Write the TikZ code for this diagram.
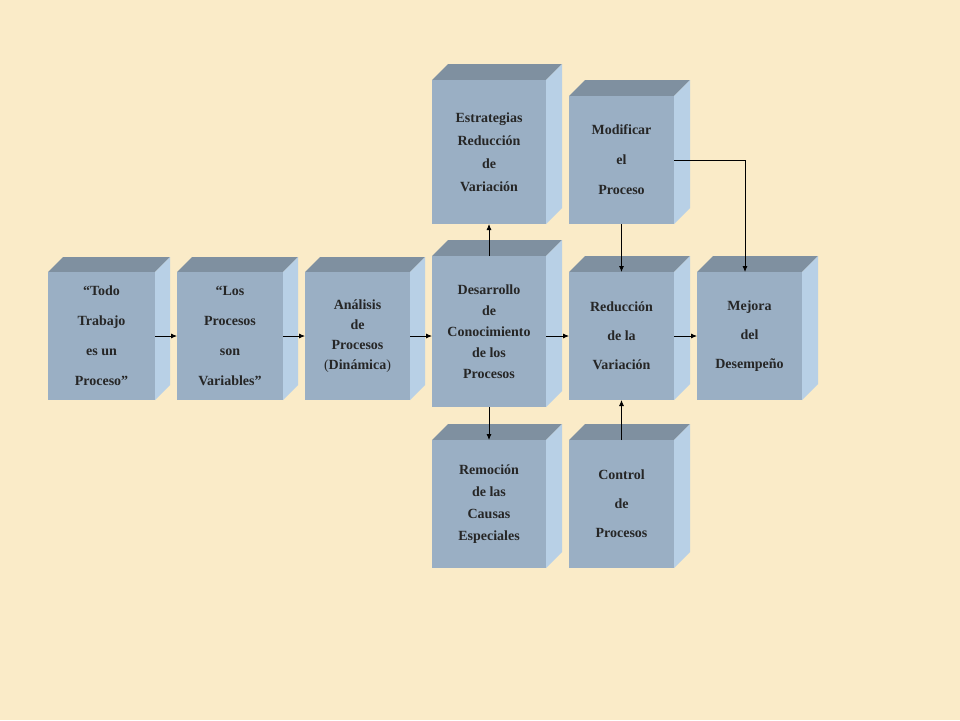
\documentclass[tikz,border=0pt]{standalone}
\usepackage{fontspec}
\setmainfont{Liberation Serif}
\usetikzlibrary{arrows.meta}
\definecolor{bg}{HTML}{FAEBC8}
\definecolor{front}{HTML}{9AAFC4}
\definecolor{topf}{HTML}{7F90A0}
\definecolor{side}{HTML}{B8D0E6}
\tikzset{x=1pt,y=-1pt,
 lbl/.style={align=center,font=\bfseries\fontsize{14}{#1}\selectfont,text=black!85},
 arr/.style={-{Latex[length=6pt,width=5pt]},line width=0.8pt}}
\newcommand\mycube[6]{% name x1 y1 x2 y2 d
 \fill[topf] (#2,#3) -- (#2+#6,#3-#6) -- (#4+#6,#3-#6) -- (#4,#3) -- cycle;
 \fill[side] (#4,#3) -- (#4+#6,#3-#6) -- (#4+#6,#5-#6) -- (#4,#5) -- cycle;
 \fill[front] (#2,#3) rectangle (#4,#5);
 \coordinate (#1) at ({(#2+#4)/2},{(#3+#5)/2});
 \coordinate (#1-n) at ({(#2+#4)/2},#3);
 \coordinate (#1-s) at ({(#2+#4)/2},#5);
 \coordinate (#1-e) at (#4,{(#3+#5)/2});
 \coordinate (#1-w) at (#2,{(#3+#5)/2});}
\begin{document}
\begin{tikzpicture}
\fill[bg] (0,0) rectangle (960,720);
\useasboundingbox (0,0) rectangle (960,720);
\mycube{a}{48}{272}{155}{400}{15}
\mycube{b}{177}{272}{283}{400}{15}
\mycube{c}{305}{272}{410}{400}{15}
\mycube{d}{432}{256}{546}{407}{16}
\mycube{e}{432}{80}{546}{224}{16}
\mycube{f}{569}{96}{674}{224}{16}
\mycube{g}{569}{272}{674}{400}{16}
\mycube{h}{697}{272}{802}{400}{16}
\mycube{i}{432}{440}{546}{568}{16}
\mycube{j}{569}{440}{674}{568}{16}
\node[lbl=30pt] (ta) at (a) {“Todo\\Trabajo\\es un\\Proceso”};
\node[lbl=30pt] (tb) at (b) {“Los\\Procesos\\son\\Variables”};
\node[lbl=20pt] (tc) at (c) {Análisis\\de\\Procesos\\{\mdseries(}Dinámica{\mdseries)}};
\node[lbl=21pt] (td) at (d) {Desarrollo\\de\\Conocimiento\\de los\\Procesos};
\node[lbl=23pt] (te) at (e) {Estrategias\\Reducción\\de\\Variación};
\node[lbl=30pt] (tf) at (f) {Modificar\\el\\Proceso};
\node[lbl=29pt] (tg) at (g) {Reducción\\de la\\Variación};
\node[lbl=29pt] (th) at (h) {Mejora\\del\\Desempeño};
\node[lbl=22pt] (ti) at (i) {Remoción\\de las\\Causas\\Especiales};
\node[lbl=29pt] (tj) at (j) {Control\\de\\Procesos};
\draw[arr] (a-e) -- (b-w);
\draw[arr] (b-e) -- (c-w);
\draw[arr] (c-e) -- (c-e -| d-w);
\draw[arr] (d-e |- g-e) -- (g-w);
\draw[arr] (g-e) -- (h-w);
\draw[arr] (d-n) -- (e-s);
\draw[arr] (d-s) -- (i-n);
\draw[arr] (f-s) -- (g-n);
\draw[arr] (j-n) -- (g-s);
\coordinate (fk) at (745,160);
\draw[arr] (674,160) -- (fk) -- (h-n -| fk);
\end{tikzpicture}
\end{document}
